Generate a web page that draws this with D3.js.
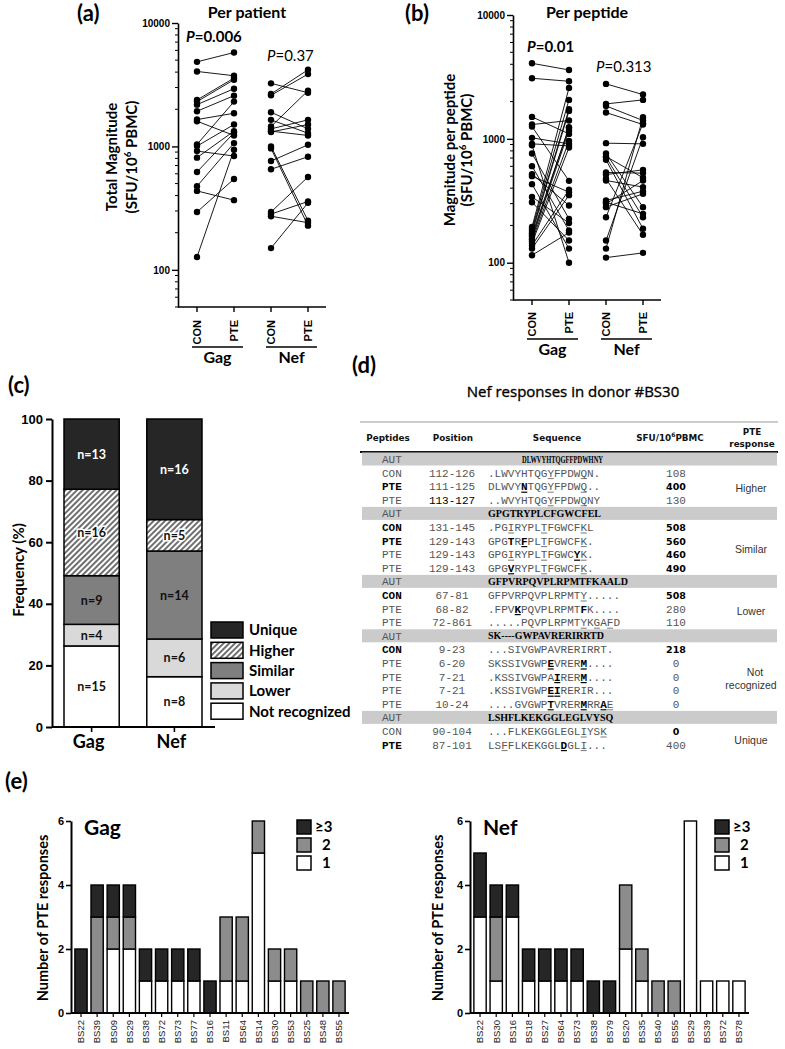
<!DOCTYPE html>
<html><head><meta charset="utf-8">
<script src="https://cdn.jsdelivr.net/npm/d3@7"></script>
<style>body{margin:0;background:#fff} svg{display:block}</style>
</head><body>
<svg id="fig" width="785" height="1049"></svg>
<script>
// ================= DATA =================
const pairCategories = ["CON", "PTE"];
const proteins = ["Gag", "Nef"];
const logTicks = [100, 1000, 10000];

// (a) per patient (CON[i] paired with PTE[i])
const patientGagCON = [4845, 4050, 2380, 2307, 2180, 1928, 1651, 1600, 1038, 1006, 917, 811, 621, 476, 436, 294, 127];
const patientGagPTE = [5766, 3738, 3578, 3468, 2936, 2578, 1857, 1227, 2307, 1504, 836, 1330, 1289, 1064, 367, 545, 940];
const patientNefCON = [3243, 2659, 2594, 1892, 1641, 1449, 1388, 1330, 1310, 1000, 964, 761, 653, 294, 283, 272, 150];
const patientNefPTE = [2725, 4178, 3855, 1388, 1281, 2830, 1641, 1227, 1504, 250, 228, 1031, 825, 566, 358, 241, 349];

// (b) per peptide
const peptideGagCON = [4074, 3084, 1504, 1305, 1257, 1019, 911, 889, 762, 602, 519, 500, 431, 340, 308, 194, 187, 180, 173, 167, 161, 155, 150, 144, 138, 130, 115];
const peptideGagPTE = [3600, 2918, 1097, 1406, 458, 911, 878, 100, 226, 182, 290, 371, 130, 209, 151, 2578, 2064, 1735, 1682, 1242, 1227, 1167, 963, 851, 388, 351, 175];
const peptideNefCON = [2779, 1915, 1845, 1631, 923, 762, 721, 711, 677, 535, 515, 476, 461, 318, 308, 299, 281, 233, 151, 130, 110];
const peptideNefPTE = [2278, 2064, 1406, 1305, 911, 281, 485, 233, 188, 529, 562, 168, 408, 378, 248, 461, 360, 1337, 1031, 1495, 120];

// (c) PTE response categories (counts)
const freqCategories = ["Unique", "Higher", "Similar", "Lower", "Not recognized"];
const freqGag = [13, 16, 9, 4, 15];
const freqNef = [16, 5, 14, 6, 8];
const freqTicks = [0, 20, 40, 60, 80, 100];

// (d) table
const tableHeaders = ["Peptides", "Position", "Sequence", "SFU/10⁶PBMC", "PTE response"];
const tablePeptides = ["AUT","CON","PTE","PTE","AUT","CON","PTE","PTE","PTE","AUT","CON","PTE","PTE","AUT","CON","PTE","PTE","PTE","PTE","AUT","CON","PTE"];
const tablePositions = ["","112-126","111-125","113-127","","131-145","129-143","129-143","129-143","","67-81","68-82","72-861","","9-23","6-20","7-21","7-21","10-24","","90-104","87-101"];
// markup: _X underline, *X bold, +X bold+underline
const tableSequences = [
  "DLWVYHTQGFFPDWHNY", ".LWVYHTQG_YFPDW_QN.", "DLWVY+NTQG_YFPDW_Q..", "..WVYHTQG_YFPDW_QNY",
  "GPGTRYPLCFGWCFEL", ".PG_IRYPL_TFGWCF_KL", "GPG*TR+FPL_TFGWCF_K.", "GPG_IRYPL_TFGWC+Y_K.", "GPG+VRYPL_TFGWCF_K.",
  "GFPVRPQVPLRPMTFKAALD", "GFPVRPQVPLRPMT_Y.....", ".FPV+KPQVPLRPMT*FK....", ".....PQVPLRPMT_YK_GA_FD",
  "SK----GWPAVRERIRRTD", "...SIVGWPAVRERIRRT.", "SKSSIVGWP+EVRER+M....", ".KSSIVGWPA+IRER+M....", ".KSSIVGWP+E+IRERIR...", "....GVGWP+TVRER+MRR+A_E",
  "LSHFLKEKGGLEGLVYSQ", "...FLKEKGGLEGL_IYS_K", "LS_FFLKEKGGL+DGL_I..."
];
const tableSFU = ["","108","400","130","","508","560","460","490","","508","280","110","","218","0","0","0","0","","0","400"];
const tableSFUBold = [0,0,1,0,0,1,1,1,1,0,1,0,0,0,1,0,0,0,0,0,1,0];
const tablePeptideBold = [0,0,1,0,0,1,1,0,0,0,1,0,0,0,1,0,0,0,0,0,0,1];
const tableResponses = ["Higher", "Similar", "Lower", "Not recognized", "Unique"];

// (e) number of PTE responses per donor
const countLevels = ["≥3", "2", "1"];
const countTicks = [0, 2, 4, 6];
const gagDonors = ["BS22","BS39","BS09","BS29","BS38","BS72","BS73","BS77","BS16","BS11","BS64","BS14","BS30","BS53","BS25","BS48","BS55"];
const gagOne   = [0,0,2,2,1,1,1,1,0,1,1,5,1,1,0,0,0];
const gagTwo   = [0,3,1,1,0,0,0,0,0,2,2,1,1,1,1,1,1];
const gagThree = [2,1,1,1,1,1,1,1,1,0,0,0,0,0,0,0,0];
const nefDonors = ["BS22","BS30","BS16","BS18","BS27","BS64","BS73","BS38","BS79","BS20","BS35","BS40","BS55","BS29","BS39","BS72","BS78"];
const nefOne   = [3,1,3,1,1,1,1,0,0,2,1,0,0,6,1,1,1];
const nefTwo   = [0,2,0,0,0,0,0,0,0,2,1,1,1,0,0,0,0];
const nefThree = [2,1,1,1,1,1,1,1,1,0,0,0,0,0,0,0,0];

// ================= DRAWING =================
const svg = d3.select("#fig");
svg.append("rect").attr("width", 785).attr("height", 1049).attr("fill", "#fff");
const SANS = "Lato, 'Open Sans', sans-serif";
const ARIAL = "'Liberation Sans', Arial, sans-serif";
const MONO = "'Liberation Mono', 'Courier New', monospace";
const DEJA = "'DejaVu Sans', Verdana, sans-serif";

const defs = svg.append("defs");
const pat = defs.append("pattern").attr("id", "hatch").attr("width", 4).attr("height", 4)
  .attr("patternUnits", "userSpaceOnUse").attr("patternTransform", "rotate(45)");
pat.append("rect").attr("width", 4).attr("height", 4).attr("fill", "#fff");
pat.append("line").attr("x1", 1).attr("y1", 0).attr("x2", 1).attr("y2", 4).attr("stroke", "#222").attr("stroke-width", 1.3);

function panelLabel(t, x, y) {
  svg.append("text").attr("x", x).attr("y", y).text(t)
    .attr("font-family", SANS).attr("font-weight", "bold").attr("font-size", 22);
}
function rotLabel(lines, cx, cy, size) {
  lines.forEach((ln, i) => {
    const t = svg.append("text").attr("transform", `translate(${ln.x},${cy}) rotate(-90)`)
      .attr("text-anchor", "middle").attr("font-family", SANS).attr("font-weight", "bold").attr("font-size", size);
    ln.parts.forEach(p => {
      const ts = t.append("tspan").text(p.t);
      if (p.sup) ts.attr("font-size", size * 0.65).attr("dy", -6);
      if (p.down) ts.attr("dy", 6);
    });
  });
}
const sfuParts = [{t: "(SFU/10"}, {t: "6", sup: true}, {t: " PBMC)", down: true}];

// ---------- (a) & (b) ----------
function drawPair(cfg) {
  const slots = [];
  proteins.forEach(p => pairCategories.forEach(c => slots.push(p + " " + c)));
  const x = d3.scalePoint().domain(slots).range([cfg.x0, cfg.x1]);
  const y = d3.scaleLog().domain([50, 10000]).range([cfg.bottom, cfg.top]);
  const g = svg.append("g");
  const minor = [];
  [10, 100, 1000].forEach(d => d3.range(2, 10).forEach(m => {
    const v = d * m; if (v >= 50 && v < 10000) minor.push(v);
  }));
  g.selectAll(null).data(minor).join("line")
    .attr("x1", cfg.axisX).attr("x2", cfg.axisX - 3).attr("y1", d => y(d)).attr("y2", d => y(d))
    .attr("stroke", "#000").attr("stroke-width", 1);
  const ax = g.append("g").attr("transform", `translate(${cfg.axisX},0)`)
    .call(d3.axisLeft(y).tickValues(logTicks).tickFormat(d3.format("d")).tickSize(6).tickSizeOuter(0).tickPadding(2));
  ax.select(".domain").attr("stroke-width", 1.6);
  ax.selectAll(".tick line").attr("stroke-width", 1.4);
  ax.selectAll("text").attr("font-family", ARIAL).attr("font-weight", "bold").attr("font-size", 10).attr("fill", "#000");
  g.append("line").attr("x1", cfg.axisX).attr("x2", cfg.xEnd).attr("y1", cfg.bottom).attr("y2", cfg.bottom)
    .attr("stroke", "#000").attr("stroke-width", 1.6);
  slots.forEach((s, i) => {
    g.append("line").attr("x1", x(s)).attr("x2", x(s)).attr("y1", cfg.bottom).attr("y2", cfg.bottom + 5)
      .attr("stroke", "#000").attr("stroke-width", 1.4);
    g.append("text").attr("transform", `translate(${x(s)},${cfg.labelY}) rotate(-90)`)
      .attr("text-anchor", "end").attr("dy", "0.36em").text(pairCategories[i % 2])
      .attr("font-family", ARIAL).attr("font-weight", "bold").attr("font-size", 11);
  });
  proteins.forEach((p, pi) => {
    const xa = x(p + " CON") - 5, xb = x(p + " PTE") + 9;
    g.append("line").attr("x1", xa).attr("x2", xb).attr("y1", cfg.groupY).attr("y2", cfg.groupY)
      .attr("stroke", "#000").attr("stroke-width", 1.4);
    g.append("text").attr("x", (xa + xb) / 2).attr("y", cfg.groupY + 16).attr("text-anchor", "middle")
      .text(p).attr("font-family", SANS).attr("font-weight", "bold").attr("font-size", 16);
    const con = cfg.series[pi][0], pte = cfg.series[pi][1];
    const pairs = con.map((c, i) => ({c, t: pte[i]}));
    g.selectAll(null).data(pairs).join("line")
      .attr("x1", x(p + " CON")).attr("x2", x(p + " PTE"))
      .attr("y1", d => y(d.c)).attr("y2", d => y(d.t))
      .attr("stroke", "#000").attr("stroke-width", 0.9);
    g.selectAll(null).data(con).join("circle").attr("cx", x(p + " CON")).attr("cy", d => y(d)).attr("r", 3.2).attr("fill", "#000");
    g.selectAll(null).data(pte).join("circle").attr("cx", x(p + " PTE")).attr("cy", d => y(d)).attr("r", 3.2).attr("fill", "#000");
    const pv = cfg.pvals[pi];
    const t = g.append("text").attr("x", pv.x).attr("y", pv.y)
      .attr("font-family", SANS).attr("font-size", 15).attr("font-weight", pv.bold ? "bold" : "normal");
    t.append("tspan").attr("font-style", "italic").text("P");
    t.append("tspan").text("=" + pv.v);
  });
  svg.append("text").attr("x", cfg.titleX).attr("y", 18).attr("text-anchor", "middle").text(cfg.title)
    .attr("font-family", SANS).attr("font-weight", "bold").attr("font-size", 16);
}

drawPair({x0: 197, x1: 308, axisX: 178, xEnd: 326, top: 23, bottom: 307, labelY: 320, groupY: 347,
  series: [[patientGagCON, patientGagPTE], [patientNefCON, patientNefPTE]],
  pvals: [{x: 186, y: 42, v: "0.006", bold: true}, {x: 267, y: 61, v: "0.37", bold: false}],
  title: "Per patient", titleX: 247});
drawPair({x0: 532, x1: 643, axisX: 513, xEnd: 661, top: 15, bottom: 300, labelY: 312, groupY: 339,
  series: [[peptideGagCON, peptideGagPTE], [peptideNefCON, peptideNefPTE]],
  pvals: [{x: 527, y: 52, v: "0.01", bold: true}, {x: 596, y: 72, v: "0.313", bold: false}],
  title: "Per peptide", titleX: 587});
panelLabel("(a)", 77, 21);
panelLabel("(b)", 405, 21);
rotLabel([{x: 117, parts: [{t: "Total Magnitude"}]}, {x: 137, parts: sfuParts}], 0, 157, 15);
rotLabel([{x: 455, parts: [{t: "Magnitude per peptide"}]}, {x: 472, parts: sfuParts}], 0, 150, 15);

// ---------- (c) ----------
(function () {
  const fills = {"Unique": "#262626", "Higher": "url(#hatch)", "Similar": "#7f7f7f", "Lower": "#d9d9d9", "Not recognized": "#fff"};
  const y = d3.scaleLinear().domain([0, 100]).range([727, 419]);
  const x = d3.scaleBand().domain(proteins).range([52, 214]).paddingInner(0.333).paddingOuter(0.145);
  const g = svg.append("g");
  const data = {Gag: freqGag, Nef: freqNef};
  proteins.forEach(p => {
    const counts = data[p], total = d3.sum(counts);
    let cum = 0;
    const order = freqCategories.map((c, i) => ({c, n: counts[i]})).reverse();
    order.forEach(seg => {
      const y0 = cum / total * 100, y1 = (cum + seg.n) / total * 100;
      cum += seg.n;
      g.append("rect").attr("x", x(p)).attr("width", x.bandwidth())
        .attr("y", y(y1)).attr("height", y(y0) - y(y1))
        .attr("fill", fills[seg.c]).attr("stroke", "#000").attr("stroke-width", 1.5);
      const lbl = g.append("text").attr("x", x(p) + x.bandwidth() / 2).attr("y", (y(y0) + y(y1)) / 2)
        .attr("dy", "0.36em").attr("text-anchor", "middle").text("n=" + seg.n)
        .attr("font-family", SANS).attr("font-weight", "bold").attr("font-size", 12.5)
        .attr("fill", seg.c === "Unique" ? "#fff" : "#111");
      if (seg.c === "Higher") lbl.attr("stroke", "#fff").attr("stroke-width", 3).attr("paint-order", "stroke");
    });
    g.append("line").attr("x1", x(p) + x.bandwidth() / 2).attr("x2", x(p) + x.bandwidth() / 2)
      .attr("y1", 727).attr("y2", 732).attr("stroke", "#000").attr("stroke-width", 1.6);
    g.append("text").attr("x", x(p) + x.bandwidth() / 2 - 3).attr("y", 748).attr("text-anchor", "middle")
      .text(p).attr("font-family", SANS).attr("font-weight", "bold").attr("font-size", 18);
  });
  const ax = g.append("g").attr("transform", "translate(52,0)")
    .call(d3.axisLeft(y).tickValues(freqTicks).tickSize(6).tickSizeOuter(0).tickPadding(3));
  ax.select(".domain").attr("stroke-width", 2);
  ax.selectAll(".tick line").attr("stroke-width", 2);
  ax.selectAll("text").attr("font-family", ARIAL).attr("font-weight", "bold").attr("font-size", 13).attr("fill", "#000");
  g.append("line").attr("x1", 52).attr("x2", 215).attr("y1", 727).attr("y2", 727).attr("stroke", "#000").attr("stroke-width", 2);
  freqCategories.forEach((c, i) => {
    const yy = 622 + i * 20.3;
    g.append("rect").attr("x", 211).attr("y", yy).attr("width", 32).attr("height", 16)
      .attr("fill", fills[c]).attr("stroke", "#000").attr("stroke-width", 1.5);
    g.append("text").attr("x", 249).attr("y", yy + 8).attr("dy", "0.36em").text(c)
      .attr("font-family", SANS).attr("font-weight", "bold").attr("font-size", 15);
  });
  rotLabel([{x: 24, parts: [{t: "Frequency  (%)"}]}], 0, 570, 15);
  panelLabel("(c)", 8, 393);
})();

// ---------- (d) table ----------
(function () {
  const g = svg.append("g");
  panelLabel("(d)", 352, 373);
  g.append("text").attr("x", 573).attr("y", 397).attr("text-anchor", "middle").text("Nef responses in donor #BS30")
    .attr("font-family", "'Open Sans', sans-serif").attr("font-size", 15).attr("fill", "#000")
    .attr("stroke", "#000").attr("stroke-width", 0.35);
  g.append("line").attr("x1", 360).attr("x2", 778).attr("y1", 422).attr("y2", 422).attr("stroke", "#999").attr("stroke-width", 1);
  const hdrX = [388, 453, 557, 670, 752];
  tableHeaders.forEach((h, i) => {
    const t = g.append("text").attr("text-anchor", "middle").attr("font-family", DEJA).attr("font-weight", "bold")
      .attr("font-size", 8.8).attr("fill", "#111");
    if (i === 4) {
      t.attr("x", hdrX[i]).attr("y", 435);
      t.append("tspan").attr("x", hdrX[i]).text("PTE");
      t.append("tspan").attr("x", hdrX[i]).attr("dy", 11.5).text("response");
    } else if (i === 3) {
      t.attr("x", hdrX[i]).attr("y", 441);
      t.append("tspan").text("SFU/10");
      t.append("tspan").attr("font-size", 6).attr("dy", -4).text("6");
      t.append("tspan").attr("dy", 4).text("PBMC");
    } else {
      t.attr("x", hdrX[i]).attr("y", 441).text(h);
    }
  });
  g.append("line").attr("x1", 360).attr("x2", 778).attr("y1", 452).attr("y2", 452).attr("stroke", "#111").attr("stroke-width", 2);

  const rowY = i => 459 + 13.6 * i;
  const CW = 6.6, SEQX = 488;
  tablePeptides.forEach((pep, i) => {
    const yy = rowY(i);
    const isAut = pep === "AUT";
    if (isAut) {
      g.append("rect").attr("x", 362).attr("y", yy - 6.5).attr("width", 415).attr("height", 13).attr("fill", "#cbcbcb");
    }
    g.append("text").attr("x", 382).attr("y", yy + 4).text(pep)
      .attr("font-family", MONO).attr("font-size", 11)
      .attr("font-weight", tablePeptideBold[i] ? "bold" : "normal")
      .attr("fill", tablePeptideBold[i] ? "#000" : "#555");
    if (tablePositions[i]) {
      g.append("text").attr("x", 452).attr("y", yy + 4).attr("text-anchor", "middle").text(tablePositions[i])
        .attr("font-family", MONO).attr("font-size", 11).attr("fill", i === 3 ? "#000" : "#555");
    }
    const seq = tableSequences[i];
    if (isAut) {
      const t = g.append("text").attr("x", i === 0 ? 522 : SEQX).attr("y", yy + 3.5).text(seq)
        .attr("font-family", "'Liberation Serif', 'Times New Roman', serif").attr("font-weight", "bold")
        .attr("font-size", 10).attr("fill", "#000");
      if (i === 0) t.attr("textLength", 81).attr("lengthAdjust", "spacingAndGlyphs");
    } else {
      const chars = [];
      for (let k = 0; k < seq.length; k++) {
        const m = seq[k];
        if (m === "_" || m === "*" || m === "+") {
          chars.push({ch: seq[k + 1], u: m !== "*", b: m !== "_"}); k++;
        } else chars.push({ch: m, u: false, b: false});
      }
      chars.forEach((c, k) => {
        const cx = SEQX + k * CW;
        g.append("text").attr("x", cx).attr("y", yy + 4).text(c.ch)
          .attr("font-family", MONO).attr("font-size", 11)
          .attr("font-weight", c.b ? "bold" : "normal").attr("fill", c.b ? "#000" : "#555");
        if (c.u) g.append("line").attr("x1", cx + 0.3).attr("x2", cx + CW - 0.3).attr("y1", yy + 6).attr("y2", yy + 6)
          .attr("stroke", c.b ? "#000" : "#555").attr("stroke-width", c.b ? 1.2 : 0.8);
      });
    }
    if (tableSFU[i] !== "") {
      const b = tableSFUBold[i];
      g.append("text").attr("x", 676).attr("y", yy + 4).attr("text-anchor", "middle").text(tableSFU[i])
        .attr("font-family", b ? DEJA : MONO).attr("font-weight", b ? "bold" : "normal")
        .attr("font-size", b ? 9.5 : 11).attr("fill", b ? "#000" : "#555");
    }
  });
  const autIdx = tablePeptides.map((p, i) => p === "AUT" ? i : -1).filter(i => i >= 0);
  autIdx.forEach((a, gi) => {
    const end = gi + 1 < autIdx.length ? autIdx[gi + 1] - 1 : tablePeptides.length - 1;
    const cy = (rowY(a + 1) + rowY(end)) / 2 + 2;
    const words = tableResponses[gi].split(" ");
    const t = g.append("text").attr("text-anchor", "middle").attr("font-family", ARIAL).attr("font-size", 10.5).attr("fill", "#333");
    if (words.length === 1) {
      t.attr("x", 751).attr("y", cy + 4).text(words[0]);
    } else {
      t.attr("x", 751).attr("y", cy - 2.5);
      words.forEach((w, wi) => t.append("tspan").attr("x", wi ? 751 : 755).attr("dy", wi ? 12.5 : 0).text(w));
    }
  });
})();

// ---------- (e) ----------
function drawCounts(cfg) {
  const fills = {"≥3": "#262626", "2": "#8c8c8c", "1": "#fff"};
  const x = d3.scaleBand().domain(cfg.donors).range([cfg.x0, cfg.x1]).padding(0.24);
  const y = d3.scaleLinear().domain([0, 6]).range([1013, 821]);
  const g = svg.append("g");
  cfg.donors.forEach((d, i) => {
    const segs = [{k: "1", v: cfg.one[i]}, {k: "2", v: cfg.two[i]}, {k: "≥3", v: cfg.three[i]}];
    let cum = 0;
    segs.forEach(s => {
      if (s.v <= 0) return;
      g.append("rect").attr("x", x(d)).attr("width", x.bandwidth()).attr("y", y(cum + s.v))
        .attr("height", y(cum) - y(cum + s.v)).attr("fill", fills[s.k]).attr("stroke", "#000").attr("stroke-width", 1.4);
      cum += s.v;
    });
    const cx = x(d) + x.bandwidth() / 2;
    g.append("line").attr("x1", cx).attr("x2", cx).attr("y1", 1013).attr("y2", 1017).attr("stroke", "#000").attr("stroke-width", 1.2);
    g.append("text").attr("transform", `translate(${cx},1020) rotate(-90)`).attr("text-anchor", "end").attr("dy", "0.35em")
      .text(d).attr("font-family", ARIAL).attr("font-size", 9.5).attr("fill", "#222");
  });
  const ax = g.append("g").attr("transform", `translate(${cfg.x0},0)`)
    .call(d3.axisLeft(y).tickValues(countTicks).tickFormat(d3.format("d")).tickSize(5).tickSizeOuter(0).tickPadding(2));
  ax.select(".domain").attr("stroke-width", 2);
  ax.selectAll(".tick line").attr("stroke-width", 1.6);
  ax.selectAll("text").attr("font-family", ARIAL).attr("font-weight", "bold").attr("font-size", 11).attr("fill", "#000");
  g.append("line").attr("x1", cfg.x0).attr("x2", cfg.x1).attr("y1", 1013).attr("y2", 1013).attr("stroke", "#000").attr("stroke-width", 2);
  g.append("text").attr("x", cfg.x0 + 13).attr("y", 835).text(cfg.title)
    .attr("font-family", SANS).attr("font-weight", "bold").attr("font-size", 21);
  countLevels.forEach((k, i) => {
    const yy = 820 + i * 18;
    g.append("rect").attr("x", cfg.legX).attr("y", yy).attr("width", 14).attr("height", 14)
      .attr("fill", fills[k]).attr("stroke", "#000").attr("stroke-width", 1.5);
    g.append("text").attr("x", cfg.legX + (k === "≥3" ? 18 : 25)).attr("y", yy + 7).attr("dy", "0.36em").text(k)
      .attr("font-family", SANS).attr("font-weight", "bold").attr("font-size", 15);
  });
  rotLabel([{x: cfg.labX, parts: [{t: "Number of PTE responses"}]}], 0, 918, 14.5);
}
drawCounts({donors: gagDonors, one: gagOne, two: gagTwo, three: gagThree, x0: 71, x1: 349, title: "Gag", legX: 297, labX: 48});
drawCounts({donors: nefDonors, one: nefOne, two: nefTwo, three: nefThree, x0: 470, x1: 749, title: "Nef", legX: 715, labX: 443});
panelLabel("(e)", 5, 789);
</script></body></html>
